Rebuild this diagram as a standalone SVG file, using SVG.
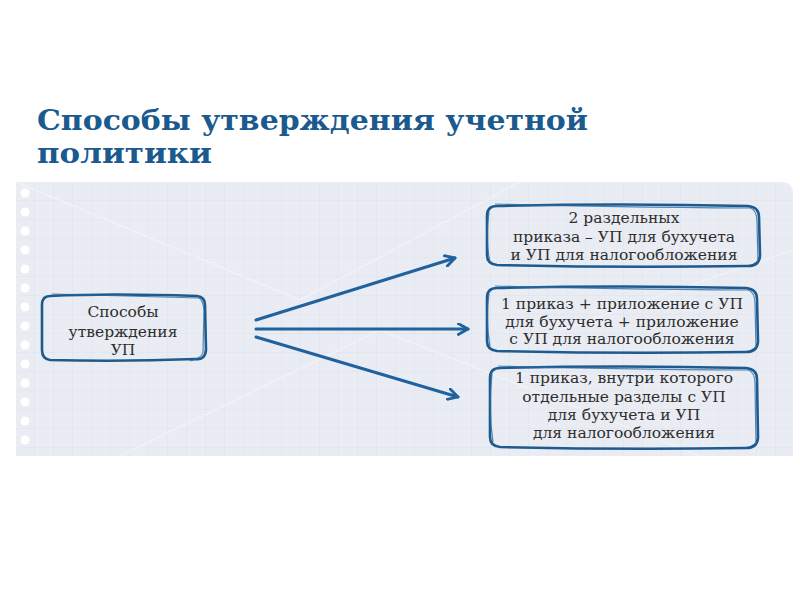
<svg xmlns="http://www.w3.org/2000/svg" width="800" height="600" viewBox="0 0 800 600">
<style>
.title{font-family:"DejaVu Serif","Liberation Serif",serif;font-weight:bold;font-size:28px;fill:#1a5a8e}
.t{font-family:"DejaVu Serif","Liberation Serif",serif;font-size:15.5px;fill:#2e2e2e;text-anchor:middle}
.box{fill:none;stroke:#1d5a8f;stroke-width:2.6;stroke-linejoin:round}
.box2{fill:none;stroke:#2a6aa0;stroke-width:1.2;opacity:0.8}
.arr{stroke:#1f62a0;stroke-width:3;fill:none;stroke-linecap:round}
.hole{fill:#ffffff}
</style>
<defs>
<pattern id="grid" width="19" height="19" patternUnits="userSpaceOnUse" x="16" y="182">
<path d="M19 0V19M0 19H19" stroke="#d8dee9" stroke-width="0.8" fill="none"/>
</pattern>
<marker id="ah" viewBox="0 0 12 12" refX="10" refY="6" markerWidth="13" markerHeight="13" markerUnits="userSpaceOnUse" orient="auto">
<path d="M1 1L10 6L1 11" fill="none" stroke="#1f62a0" stroke-width="2.6" stroke-linecap="round" stroke-linejoin="round"/>
</marker>
</defs>
<rect width="800" height="600" fill="#ffffff"/>
<text class="title" x="37" y="130" textLength="551" lengthAdjust="spacingAndGlyphs">Способы утверждения учетной</text>
<text class="title" x="37" y="163" textLength="175" lengthAdjust="spacingAndGlyphs">политики</text>
<g id="paper">
<path d="M16 182H781Q793 182 793 194V456H16Z" fill="#e9ecf3"/>
<path d="M16 182H781Q793 182 793 194V456H16Z" fill="url(#grid)"/>
<path d="M16 182L300 300L520 182M120 456L380 330L700 456M793 250L560 330" stroke="#f3f5f9" stroke-width="1.5" fill="none" opacity="0.7"/>
<g>
<circle class="hole" cx="25" cy="193" r="4.5"/><circle class="hole" cx="25" cy="212" r="4.5"/>
<circle class="hole" cx="25" cy="231" r="4.5"/><circle class="hole" cx="25" cy="250" r="4.5"/>
<circle class="hole" cx="25" cy="269" r="4.5"/><circle class="hole" cx="25" cy="288" r="4.5"/>
<circle class="hole" cx="25" cy="307" r="4.5"/><circle class="hole" cx="25" cy="326" r="4.5"/>
<circle class="hole" cx="25" cy="345" r="4.5"/><circle class="hole" cx="25" cy="364" r="4.5"/>
<circle class="hole" cx="25" cy="383" r="4.5"/><circle class="hole" cx="25" cy="402" r="4.5"/>
<circle class="hole" cx="25" cy="421" r="4.5"/><circle class="hole" cx="25" cy="440" r="4.5"/>
</g>
</g>
<g id="connectors">
<line class="arr" x1="256" y1="320" x2="455" y2="258" marker-end="url(#ah)"/>
<line class="arr" x1="256" y1="329" x2="468" y2="329" marker-end="url(#ah)"/>
<line class="arr" x1="256" y1="337" x2="458" y2="397" marker-end="url(#ah)"/>
</g>
<g id="node-main">
<path class="box" d="M50 296Q110 293 197 296Q205 297 205 305L206 350Q205 360 196 359Q120 362 50 360Q42 359 42 350L42 305Q42 296 50 296Z"/>
<path class="box2" d="M52 294Q120 296 199 298Q203 300 204 310L203 352Q202 358 190 361"/>
<text class="t" x="123" y="317">Способы</text>
<text class="t" x="123" y="337">утверждения</text>
<text class="t" x="123" y="355">УП</text>
</g>
<g id="node-1">
<path class="box" d="M497 206Q620 203 748 206Q759 207 759 217L760 256Q759 266 748 266Q620 268 497 265Q487 264 487 255L487 216Q487 206 497 206Z"/>
<path class="box2" d="M495 204Q600 207 750 208Q757 210 757 222L758 262M489 212Q485 240 490 262"/>
<text class="t" x="624" y="223">2 раздельных</text>
<text class="t" x="624" y="242">приказа – УП для бухучета</text>
<text class="t" x="624" y="260">и УП для налогообложения</text>
</g>
<g id="node-2">
<path class="box" d="M497 288Q620 285 746 288Q757 289 757 299L758 342Q757 352 746 352Q620 354 497 351Q487 350 487 341L487 298Q487 288 497 288Z"/>
<path class="box2" d="M495 286Q600 289 748 290Q755 292 755 304L756 348M489 294Q485 320 490 346"/>
<text class="t" x="622" y="309">1 приказ + приложение с УП</text>
<text class="t" x="622" y="326.5">для бухучета + приложение</text>
<text class="t" x="622" y="344">с УП для налогообложения</text>
</g>
<g id="node-3">
<path class="box" d="M500 368Q620 365 746 368Q757 369 757 379L758 438Q757 448 746 448Q620 450 500 447Q490 446 490 437L490 378Q490 368 500 368Z"/>
<path class="box2" d="M498 366Q600 369 748 370Q755 372 755 384L756 444M492 374Q488 410 493 442"/>
<text class="t" x="624" y="383">1 приказ, внутри которого</text>
<text class="t" x="624" y="402">отдельные разделы с УП</text>
<text class="t" x="624" y="420">для бухучета и УП</text>
<text class="t" x="624" y="438">для налогообложения</text>
</g>
</svg>
